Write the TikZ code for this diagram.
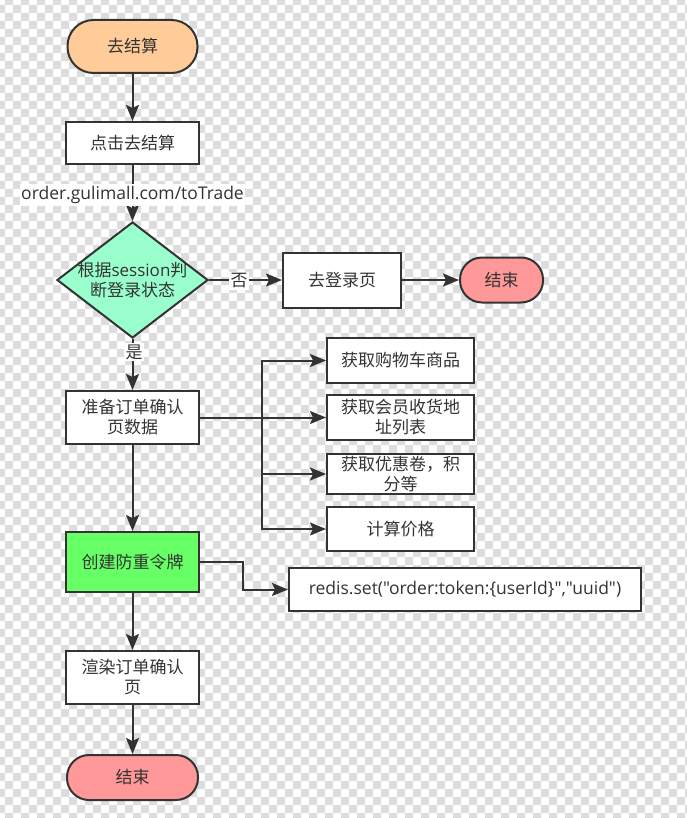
\documentclass[tikz,border=0pt]{standalone}
\usepackage{fontspec}
\setmainfont{Noto Sans CJK SC}
\newfontfamily\latin{Open Sans}
\usetikzlibrary{arrows.meta,shapes.geometric}
\definecolor{ln}{HTML}{333333}
\definecolor{chk}{HTML}{DDDDDD}
\definecolor{peach}{HTML}{FFCC99}
\definecolor{mint}{HTML}{99FFCC}
\definecolor{pink}{HTML}{FF9999}
\definecolor{lime}{HTML}{66FF66}
\begin{document}
\begin{tikzpicture}[x=1pt,y=-1pt,
  font=\fontsize{17pt}{20pt}\selectfont,
  box/.style={draw=ln, line width=2pt, fill=white, text=ln, inner sep=2pt, align=center},
  term/.style={box, rounded corners=#1},
  dia/.style={diamond, draw=ln, line width=2pt, fill=mint, aspect=1.3, inner sep=0pt},
  arr/.style={draw=ln, line width=2pt, -{Stealth[length=16pt,width=13pt,inset=3pt]}},
  lab/.style={fill=white, text=ln, inner sep=1.5pt},
  lat/.style={font=\latin\fontsize{17.5pt}{20pt}\selectfont}]
\useasboundingbox (0,0) rectangle (686,818);
\fill[white] (0,0) rectangle (686,818);
\fill[chk, even odd rule] \foreach \i in {0,...,43}{ (\i*16-3,-3) rectangle ++(8,830) } \foreach \j in {0,...,51}{ (-3,\j*16-3) rectangle ++(700,8) };
% nodes
\node[term=26pt, fill=peach, minimum width=130pt, minimum height=53pt] (start) at (132.5,46.5) {去结算};
\node[box, minimum width=133pt, minimum height=42pt] (click) at (132.5,143) {点击去结算};
\node[dia, minimum width=151pt, minimum height=116pt] (dia) at (132.5,280) {};
\node[text=ln, align=center] (diatxt) at (dia) {根据{\latin\fontsize{17pt}{20pt}\selectfont session}判\\断登录状态};
\node[box, minimum width=118pt, minimum height=55pt] (login) at (342,280) {去登录页};
\node[term=22pt, fill=pink, minimum width=83pt, minimum height=45pt] (end1) at (501.5,280) {结束};
\node[box, minimum width=133pt, minimum height=53pt] (prep) at (132.5,417.5) {准备订单确认\\页数据};
\node[box, minimum width=147pt, minimum height=45pt] (r1) at (400.5,360.5) {获取购物车商品};
\node[box, minimum width=147pt, minimum height=45pt] (r2) at (400.5,417.5) {获取会员收货地\\址列表};
\node[box, minimum width=147pt, minimum height=40pt] (r3) at (400.5,474) {获取优惠卷，积\\分等};
\node[box, minimum width=147pt, minimum height=44pt] (r4) at (400.5,529) {计算价格};
\node[box, fill=lime, minimum width=133pt, minimum height=60pt] (green) at (132.5,562) {创建防重令牌};
\node[box, lat, minimum width=352pt, minimum height=43pt] (redis) at (465,589.5) {redis.set("order:token:\{userId\}","uuid")};
\node[box, minimum width=133pt, minimum height=53pt] (render) at (132.5,677.5) {渲染订单确认\\页};
\node[term=22pt, fill=pink, minimum width=131pt, minimum height=45pt] (end2) at (132.5,777.5) {结束};
% connectors
\coordinate (trunk) at (262,417.5);
\coordinate (bend) at (243,562);
\draw[arr] (start) -- (click);
\draw[arr] (click) -- (dia.north);
\draw[arr] (dia.east) -- (login);
\draw[arr] (login) -- (end1);
\draw[arr] (dia.south) -- (prep);
\draw[arr] (prep.east) -- (trunk) |- (r1.west);
\draw[arr] (prep.east) -- (r2.west);
\draw[arr] (prep.east) -- (trunk) |- (r3.west);
\draw[arr] (prep.east) -- (trunk) |- (r4.west);
\draw[arr] (prep) -- (green);
\draw[arr] (green.east) -- (bend) |- (redis.west);
\draw[arr] (green) -- (render);
\draw[arr] (render) -- (end2);
% labels
\node[lab, lat, inner ysep=2pt] (l1) at (132.5,195) {order.gulimall.com/toTrade};
\node[lab] (l2) at (239,281) {否};
\node[lab] (l3) at (134,352) {是};
\end{tikzpicture}
\end{document}
